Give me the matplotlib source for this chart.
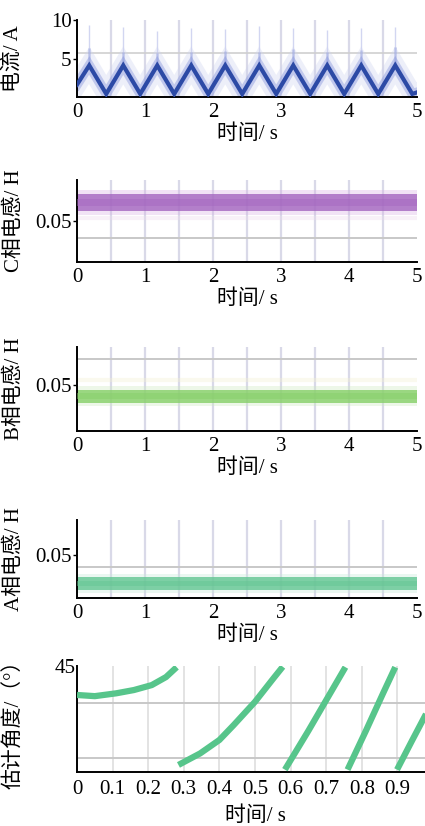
import matplotlib
matplotlib.use("Agg")
import matplotlib.pyplot as plt
import numpy as np

# fonts: serif digits, CJK fallback
FAM = ['Liberation Serif', 'Noto Sans CJK SC']
plt.rcParams['font.family'] = FAM
FS = 15

# ---- data ----
# current (A): triangle wave vertices
cur_t = [0, 0.18, 0.43, 0.68, 0.93, 1.18, 1.43, 1.68, 1.93, 2.18, 2.43, 2.68, 2.93,
         3.18, 3.43, 3.68, 3.93, 4.18, 4.43, 4.68, 4.93, 5.0]
cur_v = [1.6, 4.1, 0.4, 4.1, 0.4, 4.1, 0.4, 4.1, 0.4, 4.1, 0.4, 4.1, 0.4,
         4.1, 0.4, 4.1, 0.4, 4.1, 0.4, 4.1, 0.4, 0.6]
spike_t = [0.18, 0.68, 1.18, 1.68, 2.18, 2.68, 3.18, 3.68, 4.18, 4.68]
spike_top = [9.3, 9.1, 8.6, 9.0, 8.8, 9.2, 9.0, 8.7, 9.0, 9.1]
spike_mid = [6.4, 5.9, 5.7, 5.8, 6.0, 5.9, 6.2, 5.8, 6.1, 6.5]

# phase inductances (H): band centre / half width
ind_t = [0, 5]
lc_mid, lc_half = 0.0614, 0.0050
lb_mid, lb_half = 0.0432, 0.0040
la_mid, la_half = 0.0317, 0.0042

# estimated angle (deg), one list per sawtooth segment
ang_t1 = [0, 0.05, 0.11, 0.16, 0.21, 0.25, 0.28]
ang_v1 = [32.7, 32.2, 33.4, 34.8, 36.9, 40.3, 44.5]
ang_t2 = [0.285, 0.346, 0.40, 0.44, 0.50, 0.552, 0.578]
ang_v2 = [3.0, 7.9, 13.6, 19.9, 29.8, 39.8, 44.7]
ang_t3 = [0.584, 0.65, 0.70, 0.754]
ang_v3 = [1.0, 17.5, 30.5, 44.5]
ang_t4 = [0.760, 0.81, 0.86, 0.894]
ang_v4 = [1.0, 17.0, 33.5, 44.5]
ang_t5 = [0.899, 0.94, 0.98, 1.0]
ang_v5 = [1.0, 13.0, 24.5, 30.5]

W, H = 425, 826
fig = plt.figure(figsize=(W / 100, H / 100), dpi=100)

def mkax(l, r, t, b):
    return fig.add_axes([l / W, 1 - b / H, (r - l) / W, (b - t) / H])

def style(ax):
    for s in ['top', 'right']:
        ax.spines[s].set_visible(False)
    for s in ['left', 'bottom']:
        ax.spines[s].set_linewidth(1.4)
    ax.tick_params(labelsize=FS, length=3, width=1, direction='out', pad=1)

def xaxis5(ax):
    ax.set_xlim(0, 5)
    ax.set_xticks([0, 1, 2, 3, 4, 5])
    ax.set_xticklabels(['0', '1', '2', '3', '4', '5'])
    ax.tick_params(axis='x', length=0, pad=4)
    ax.set_xlabel('时间/ s', fontsize=FS, labelpad=2)
    for x in np.arange(0.5, 5.0, 0.5):
        ax.axvline(x, color='#d9d9e8', lw=1.6, zorder=0)

# ---- panel 1: current ----
ax1 = mkax(77, 417, 20, 97)
style(ax1)
xaxis5(ax1)
ax1.set_ylim(0, 10)
ax1.set_yticks([5, 10])
ax1.set_yticklabels(['5', '10'])
ax1.axhline(5.7, color='#cfcfcf', lw=1.2, zorder=0)
ax1.vlines(spike_t, cur_v[1], spike_top, color='#b4bbe8', lw=1.0, alpha=0.6, zorder=1)
ax1.vlines(spike_t, cur_v[1], spike_mid, color='#7585d2', lw=2.0, alpha=0.4, zorder=1)
ax1.plot(cur_t, cur_v, color='#cdd2f0', lw=14, alpha=0.35, solid_joinstyle='miter', zorder=1)
ax1.plot(cur_t, cur_v, color='#8a98de', lw=7, alpha=0.45, solid_joinstyle='miter', zorder=2)
ax1.plot(cur_t, cur_v, color='#2c4aa6', lw=3.0, solid_joinstyle='miter', zorder=3)
ax1.set_ylabel('电流/ A', fontsize=FS)

# ---- inductance panels ----
def ind_panel(t, b, ymin, grid_y, mid, half, core, halo, letter, faint=None):
    ax = mkax(77, 417, t, b)
    style(ax)
    xaxis5(ax)
    ax.set_ylim(ymin, ymin + 0.05)
    ax.set_yticks([0.05])
    ax.set_yticklabels(['0.05'])
    ax.axhline(grid_y, color='#c8c8c8', lw=1.4, zorder=0)
    if faint is not None:
        ax.axhline(faint[0], color=faint[1], lw=3, alpha=0.35, zorder=0)
    ax.fill_between(ind_t, [mid - half * 1.5] * 2, [mid + half * 1.5] * 2,
                    color=halo, alpha=0.35, lw=0, zorder=1)
    ax.fill_between(ind_t, [mid - half] * 2, [mid + half] * 2,
                    color=core, alpha=0.8, lw=0, zorder=2)
    ax.fill_between(ind_t, [mid - half * 0.45] * 2, [mid + half * 0.45] * 2,
                    color=core, alpha=0.45, lw=0, zorder=3)
    ax.set_ylabel(letter + '相电感/ H', fontsize=FS)
    return ax

ax2 = ind_panel(180, 262, 0.025, 0.0396, lc_mid, lc_half, '#a466c0', '#d8b0e4', 'C',
                faint=(0.052, '#ecd8ec'))
ax3 = ind_panel(347, 431, 0.0226, 0.0655, lb_mid, lb_half, '#86cf68', '#cdeabe', 'B',
                faint=(0.053, '#f3f0d0'))
ax4 = ind_panel(520, 598, 0.0224, 0.0423, la_mid, la_half, '#62c592', '#c5ead8', 'A')

# ---- panel 5: estimated angle ----
ax5 = mkax(77, 433, 666, 772)
style(ax5)
ax5.set_xlim(0, 1.0)
ax5.set_ylim(0, 45)
ax5.set_xticks([0, 0.1, 0.2, 0.3, 0.4, 0.5, 0.6, 0.7, 0.8, 0.9])
ax5.set_xticklabels(['0', '0.1', '0.2', '0.3', '0.4', '0.5', '0.6', '0.7', '0.8', '0.9'])
ax5.tick_params(axis='x', length=0, pad=6)
ax5.set_yticks([45])
ax5.set_yticklabels(['45'])
ax5.tick_params(axis='y', length=0)
for x in [0.1, 0.2, 0.3, 0.4, 0.5, 0.6, 0.7, 0.8, 0.9]:
    ax5.axvline(x, color='#dedede', lw=1.2, zorder=0)
ax5.axhline(29.3, color='#c8c8c8', lw=1.4, zorder=0)
ax5.axhline(5.9, color='#c8c8c8', lw=1.4, zorder=0)
for tt, vv in [(ang_t1, ang_v1), (ang_t2, ang_v2), (ang_t3, ang_v3),
               (ang_t4, ang_v4), (ang_t5, ang_v5)]:
    ax5.plot(tt, vv, color='#57c58b', lw=4.5, solid_capstyle='butt', zorder=3)
ax5.set_xlabel('时间/ s', fontsize=FS, labelpad=5)
ax5.set_ylabel('估计角度/（°）', fontsize=FS)

# align y labels like the reference
for ax in [ax1, ax2, ax3, ax4]:
    ax.yaxis.set_label_coords(-53 / 340, 0.5)
ax5.yaxis.set_label_coords(-53 / 356, 0.5)

fig.savefig('out.png', dpi=100)
